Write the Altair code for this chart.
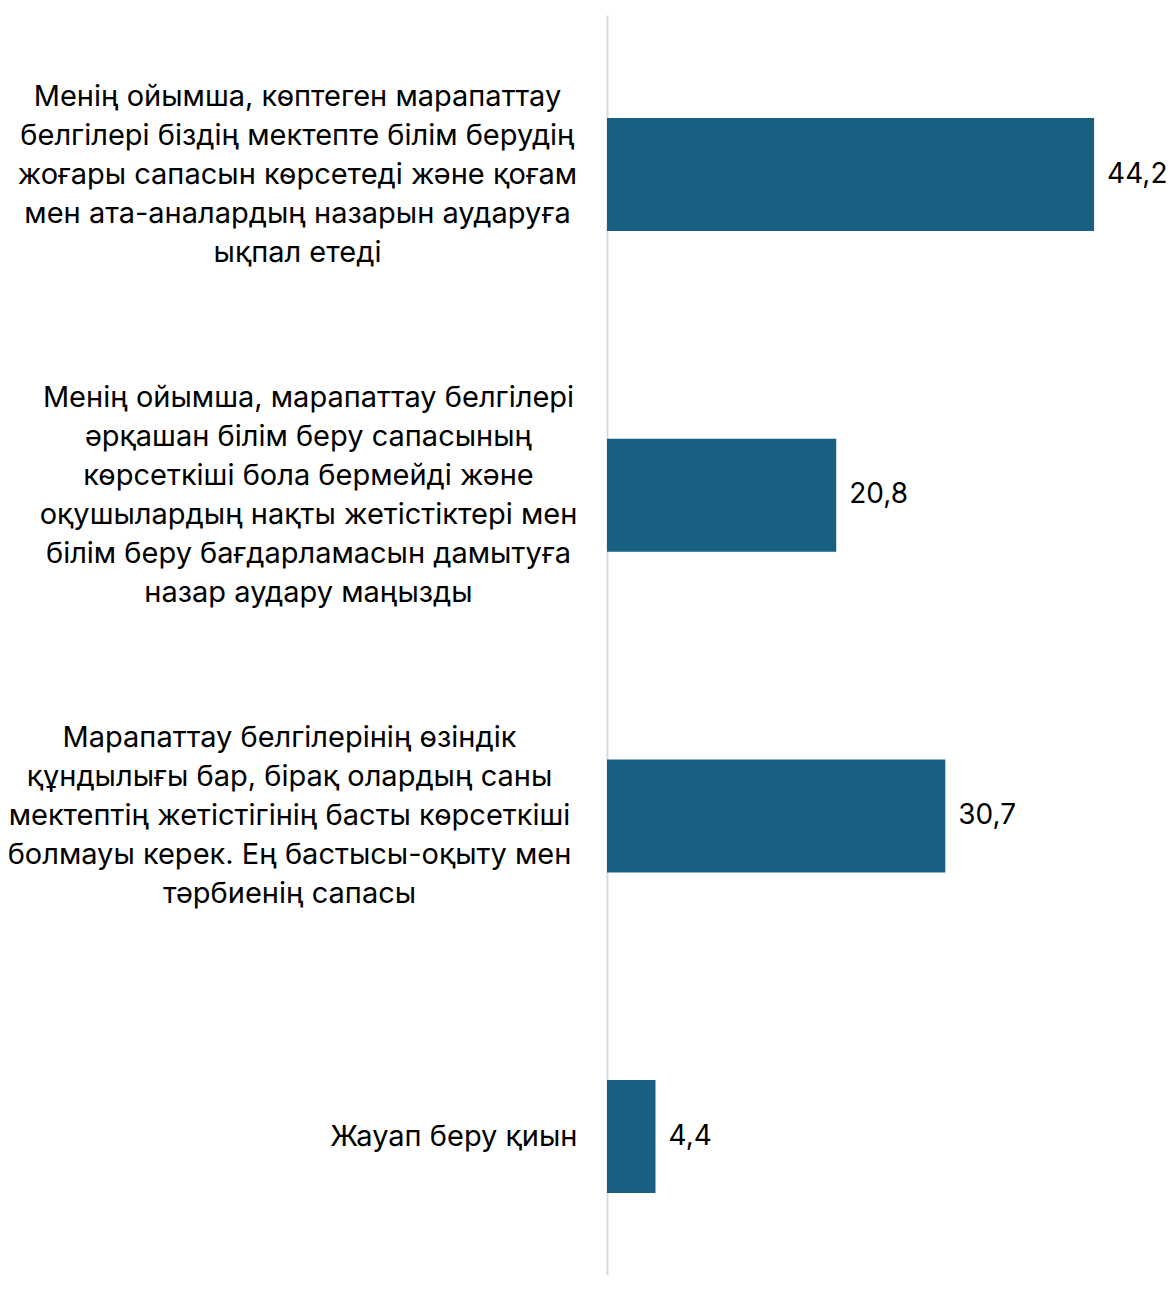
import altair as alt
import pandas as pd

categories = [
    "Менің ойымша, көптеген марапаттау|белгілері біздің мектепте білім берудің|жоғары сапасын көрсетеді және қоғам|мен ата-аналардың назарын аударуға|ықпал етеді",
    "Менің ойымша, марапаттау белгілері|әрқашан білім беру сапасының|көрсеткіші бола бермейді және|оқушылардың нақты жетістіктері мен|білім беру бағдарламасын дамытуға|назар аудару маңызды",
    "Марапаттау белгілерінің өзіндік|құндылығы бар, бірақ олардың саны|мектептің жетістігінің басты көрсеткіші|болмауы керек. Ең бастысы-оқыту мен|тәрбиенің сапасы",
    "Жауап беру қиын",
]
values = [44.2, 20.8, 30.7, 4.4]

df = pd.DataFrame({"category": categories, "value": values})

FONT = "Inter"
FS = 29
LH = 39

single = "indexof(datum.value, '|') < 0"
six = "indexof(datum.value, 'әрқашан') >= 0"
third = "indexof(datum.value, 'құндылығы') >= 0"

y_enc = alt.Y(
    "category:N",
    sort=None,
    title=None,
    scale=alt.Scale(paddingInner=0.6476, paddingOuter=0.2885, align=0.557),
    axis=alt.Axis(
        labelExpr="split(datum.label, '|')",
        labelLineHeight=LH,
        labelFont=FONT,
        labelFontSize=FS,
        labelColor="#000000",
        labelLimit=0,
        ticks=False,
        domainColor="#d9d9d9",
        domainWidth=2,
        labelAlign={"condition": {"test": single, "value": "right"}, "value": "center"},
        labelPadding={"condition": [
            {"test": single, "value": 30},
            {"test": six, "value": 299},
            {"test": third, "value": 318},
        ], "value": 310},
        labelOffset={"condition": [
            {"test": single, "value": 0},
            {"test": six, "value": -97.5},
        ], "value": -78},
        labelBaseline="middle",
    ),
)

x_enc = alt.X(
    "value:Q",
    title=None,
    scale=alt.Scale(domain=[0, 50], nice=False),
    axis=None,
)

bars = alt.Chart(df).mark_bar(color="#176082").encode(x=x_enc, y=y_enc)

text = alt.Chart(df).transform_calculate(
    lbl="replace(format(datum.value, '.1f'), '.', ',')"
).mark_text(
    align="left", baseline="middle", dx=13, font=FONT, fontSize=28, color="#000000"
).encode(x=x_enc, y=alt.Y("category:N", sort=None), text="lbl:N")

chart = alt.layer(bars, text).properties(
    width=551,
    height=1260,
    autosize=alt.AutoSizeParams(type="none"),
    padding={"left": 599, "top": 7, "right": 8, "bottom": 0},
).configure_view(stroke=None)

chart.save("out.html", embed_options={"renderer": "svg", "actions": False})
